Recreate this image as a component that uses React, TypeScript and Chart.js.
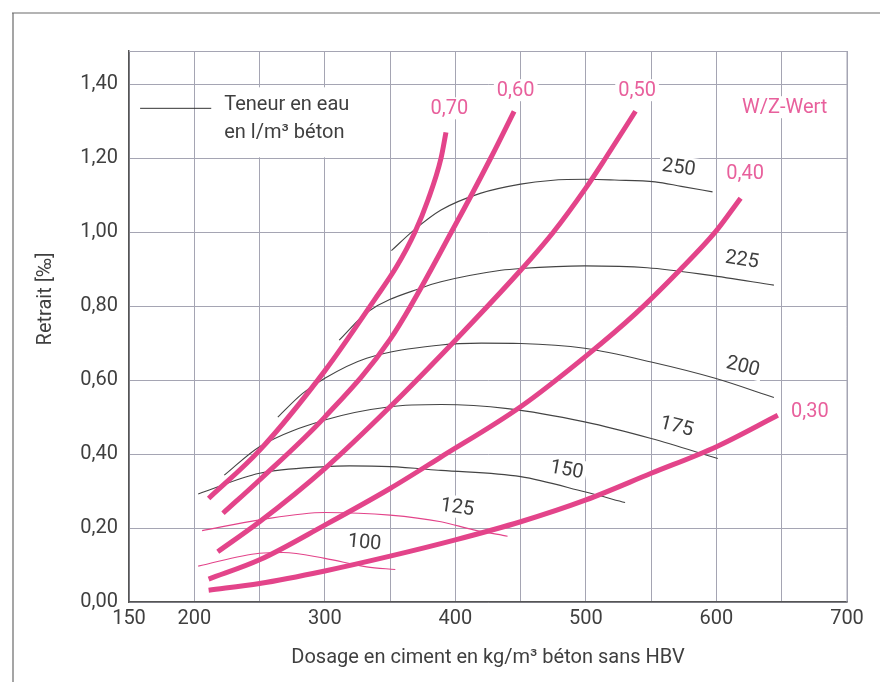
import React, { useEffect, useRef } from "react";
import { Chart, registerables } from "chart.js";
Chart.register(...registerables);

// Axis ticks
const X_TICKS = [150, 200, 250, 300, 350, 400, 450, 500, 550, 600, 650, 700];
const X_TICK_LABELS = [150, 200, 300, 400, 500, 600, 700];
const Y_TICKS = [0, 0.2, 0.4, 0.6, 0.8, 1.0, 1.2, 1.4];

// W/Z-Wert curves (cement dosage kg/m3 -> shrinkage ‰)
const wz070X = [211, 250, 300, 338, 355, 369, 379, 389, 392.8];
const wz070Y = [0.28, 0.41, 0.625, 0.817, 0.907, 1.0, 1.087, 1.2, 1.27];
const wz060X = [222, 250, 300, 350, 400, 427, 445];
const wz060Y = [0.24, 0.33, 0.5, 0.71, 1.02, 1.2, 1.327];
const wz050X = [218, 250, 300, 350, 400, 450, 475, 500, 515, 538];
const wz050Y = [0.136, 0.217, 0.361, 0.528, 0.708, 0.897, 1.0, 1.12, 1.2, 1.327];
const wz040X = [211, 250, 300, 350, 388, 450, 500, 538, 572, 599, 618.5];
const wz040Y = [0.062, 0.114, 0.208, 0.307, 0.39, 0.528, 0.665, 0.78, 0.898, 1.0, 1.092];
const wz030X = [211, 250, 300, 350, 400, 450, 500, 550, 600, 647];
const wz030Y = [0.032, 0.05, 0.084, 0.124, 0.168, 0.217, 0.276, 0.348, 0.42, 0.505];

// Water content curves (l/m3)
const w250X = [351, 368, 389, 419, 450, 473, 501, 522, 553, 573, 597];
const w250Y = [0.95, 1.005, 1.06, 1.105, 1.13, 1.14, 1.143, 1.141, 1.136, 1.124, 1.109];
const w225X = [311, 333, 376, 389, 435, 450, 499, 547, 594, 644];
const w225Y = [0.708, 0.785, 0.852, 0.866, 0.897, 0.902, 0.909, 0.904, 0.884, 0.857];
const w200X = [264, 283, 300, 332, 389, 420, 450, 499, 550, 599, 644];
const w200Y = [0.5, 0.564, 0.605, 0.659, 0.695, 0.7, 0.699, 0.686, 0.649, 0.605, 0.553];
const w175X = [223, 250, 300, 350, 389, 440, 499, 550, 601];
const w175Y = [0.343, 0.42, 0.492, 0.528, 0.534, 0.523, 0.487, 0.442, 0.388];
const w150X = [203, 250, 300, 319, 350, 389, 450, 499, 530];
const w150Y = [0.292, 0.348, 0.366, 0.368, 0.366, 0.356, 0.339, 0.298, 0.269];
const w125X = [206, 250, 300, 350, 389, 414, 440];
const w125Y = [0.193, 0.222, 0.242, 0.235, 0.217, 0.195, 0.178];
const w100X = [203, 250, 268, 300, 332, 354];
const w100Y = [0.097, 0.132, 0.134, 0.118, 0.095, 0.088];

// Curve labels (anchored in data units)
const WZ_LABEL_TEXT = ["0,70", "0,60", "0,50", "W/Z-Wert", "0,40", "0,30"];
const WZ_LABEL_X = [395.4, 446.2, 539.2, 652.3, 621.9, 671.5];
const WZ_LABEL_Y = [1.335, 1.384, 1.384, 1.338, 1.159, 0.516];
const W_LABEL_TEXT = ["250", "225", "200", "175", "150", "125", "100"];
const W_LABEL_X = [571.2, 619.6, 620.4, 569.6, 485.4, 401.5, 330.4];
const W_LABEL_Y = [1.176, 0.927, 0.638, 0.476, 0.359, 0.257, 0.162];
const W_LABEL_ROT = [8, 9, 14, 14, 10, 8, 5];

const LEGEND_LINE_X = [158.5, 213];
const LEGEND_Y = 1.335;
const LEGEND_TEXT = ["Teneur en eau", "en l/m³ béton"];

const PINK = "#e3448a";
const PINK_TEXT = "#e8609c";
const DARK = "#3f3f3f";
const GRID = "#a5a5b3";
const FONT = "Roboto";

const pts = (xs: number[], ys: number[]) => xs.map((x, i) => ({ x, y: ys[i] }));

export default function App() {
  const ref = useRef<HTMLCanvasElement | null>(null);

  useEffect(() => {
    const canvas = ref.current;
    if (!canvas) return;

    const thick = (xs: number[], ys: number[], label: string) => ({
      label,
      data: pts(xs, ys),
      borderColor: PINK,
      borderWidth: 5,
      pointRadius: 0,
      cubicInterpolationMode: "monotone" as const,
      order: 0,
      borderCapStyle: "butt" as const,
    });
    const thin = (xs: number[], ys: number[], label: string, color: string) => ({
      label,
      data: pts(xs, ys),
      borderColor: color,
      borderWidth: 1.1,
      pointRadius: 0,
      cubicInterpolationMode: "monotone" as const,
      order: 1,
    });

    const decor = {
      id: "decor",
      beforeDraw(chart: any) {
        const ctx = chart.ctx;
        ctx.save();
        ctx.fillStyle = "#ffffff";
        ctx.fillRect(0, 0, chart.width, chart.height);
        ctx.strokeStyle = "#6a6a6a";
        ctx.lineWidth = 1.2;
        ctx.beginPath();
        ctx.moveTo(12, 13);
        ctx.lineTo(chart.width, 13);
        ctx.moveTo(13, 13);
        ctx.lineTo(13, chart.height);
        ctx.stroke();
        ctx.restore();
      },
      beforeDatasetsDraw(chart: any) {
        const ctx = chart.ctx;
        const a = chart.chartArea;
        ctx.save();
        ctx.strokeStyle = GRID;
        ctx.lineWidth = 1;
        ctx.beginPath();
        ctx.moveTo(a.left, a.top + 0.5);
        ctx.lineTo(a.right, a.top + 0.5);
        ctx.lineTo(a.right, a.bottom);
        ctx.stroke();
        // legend
        const xs = chart.scales.x;
        const ys = chart.scales.y;
        const lx0 = xs.getPixelForValue(LEGEND_LINE_X[0]);
        const lx1 = xs.getPixelForValue(LEGEND_LINE_X[1]);
        const ly = ys.getPixelForValue(LEGEND_Y);
        ctx.font = `20px ${FONT}`;
        const tw = Math.max(...LEGEND_TEXT.map((t) => ctx.measureText(t).width));
        const tx = lx1 + 13;
        ctx.fillStyle = "#ffffff";
        ctx.fillRect(tx - 6, ly - 21, tw + 12, 70);
        ctx.strokeStyle = "#333";
        ctx.lineWidth = 1;
        ctx.beginPath();
        ctx.moveTo(lx0, ly);
        ctx.lineTo(lx1, ly);
        ctx.stroke();
        ctx.fillStyle = DARK;
        ctx.textAlign = "left";
        ctx.textBaseline = "middle";
        ctx.fillText(LEGEND_TEXT[0], tx, ly - 3);
        ctx.fillText(LEGEND_TEXT[1], tx, ly + 25);
        ctx.restore();
      },
      afterDatasetsDraw(chart: any) {
        const ctx = chart.ctx;
        const xs = chart.scales.x;
        const ys = chart.scales.y;
        const drawLabel = (text: string, x: number, y: number, rot: number, color: string) => {
          const px = xs.getPixelForValue(x);
          const py = ys.getPixelForValue(y);
          ctx.save();
          ctx.translate(px, py);
          ctx.rotate((rot * Math.PI) / 180);
          ctx.font = `20px ${FONT}`;
          const w = ctx.measureText(text).width;
          ctx.fillStyle = "#ffffff";
          ctx.fillRect(-w / 2 - 3, -11, w + 6, 22);
          ctx.fillStyle = color;
          ctx.textAlign = "center";
          ctx.textBaseline = "middle";
          ctx.fillText(text, 0, 1);
          ctx.restore();
        };
        WZ_LABEL_TEXT.forEach((t, i) => drawLabel(t, WZ_LABEL_X[i], WZ_LABEL_Y[i], 0, PINK_TEXT));
        W_LABEL_TEXT.forEach((t, i) => drawLabel(t, W_LABEL_X[i], W_LABEL_Y[i], W_LABEL_ROT[i], DARK));

        // y axis title
        ctx.save();
        ctx.translate(46, 299);
        ctx.rotate(-Math.PI / 2);
        ctx.font = `20px ${FONT}`;
        ctx.fillStyle = DARK;
        ctx.textAlign = "center";
        ctx.textBaseline = "middle";
        ctx.fillText("Retrait [‰]", 0, 0);
        ctx.restore();
      },
    };

    const chart = new Chart(canvas, {
      type: "line",
      data: {
        datasets: [
          thick(wz070X, wz070Y, "0,70"),
          thick(wz060X, wz060Y, "0,60"),
          thick(wz050X, wz050Y, "0,50"),
          thick(wz040X, wz040Y, "0,40"),
          thick(wz030X, wz030Y, "0,30"),
          thin(w250X, w250Y, "250", "#444"),
          thin(w225X, w225Y, "225", "#444"),
          thin(w200X, w200Y, "200", "#444"),
          thin(w175X, w175Y, "175", "#444"),
          thin(w150X, w150Y, "150", "#444"),
          thin(w125X, w125Y, "125", PINK),
          thin(w100X, w100Y, "100", PINK),
        ],
      },
      options: {
        animation: false,
        responsive: false,
        events: [],
        layout: { padding: { top: 51, right: 33, left: 0, bottom: 0 } },
        plugins: { legend: { display: false }, tooltip: { enabled: false } },
        scales: {
          x: {
            type: "linear",
            min: 150,
            max: 700,
            afterBuildTicks: (s: any) => {
              s.ticks = X_TICKS.map((v) => ({ value: v }));
            },
            afterFit: (s: any) => {
              s.height = 80;
            },
            grid: { color: GRID, drawTicks: false, lineWidth: 1 },
            border: { color: "#555", width: 1.5 },
            ticks: {
              autoSkip: false,
              maxRotation: 0,
              padding: 5,
              color: DARK,
              font: { family: FONT, size: 20 },
              callback: (v: any) => (X_TICK_LABELS.includes(Number(v)) ? String(v) : ""),
            },
            title: {
              display: true,
              text: "Dosage en ciment en kg/m³ béton sans HBV",
              color: DARK,
              font: { family: FONT, size: 20 },
              padding: { top: 0, bottom: 12 },
            },
          },
          y: {
            type: "linear",
            min: 0,
            max: 1.49,
            afterBuildTicks: (s: any) => {
              s.ticks = Y_TICKS.map((v) => ({ value: v }));
            },
            afterFit: (s: any) => {
              s.width = 129;
            },
            grid: { color: GRID, drawTicks: false, lineWidth: 1 },
            border: { color: "#555", width: 1.5 },
            ticks: {
              padding: 11,
              color: DARK,
              font: { family: FONT, size: 20 },
              callback: (v: any) => Number(v).toFixed(2).replace(".", ","),
            },
          },
        },
      },
      plugins: [decor],
    } as any);

    return () => chart.destroy();
  }, []);

  return (
    <div style={{ position: "fixed", left: 0, top: 0, width: 880, height: 682, background: "#fff" }}>
      <canvas ref={ref} width={880} height={682} style={{ display: "block" }} />
    </div>
  );
}
